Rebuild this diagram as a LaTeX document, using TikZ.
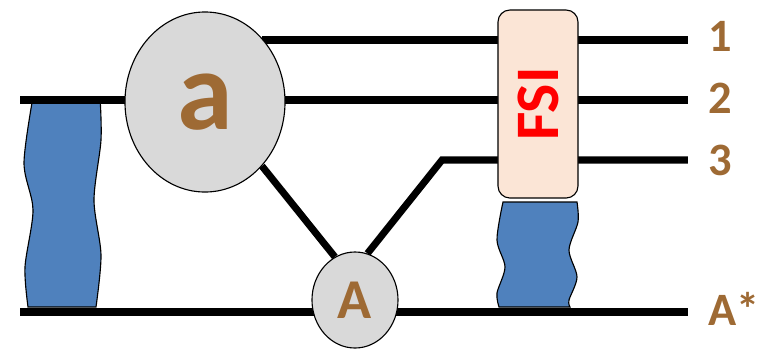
\documentclass[tikz,border=0pt]{standalone}
\usepackage{fontspec}
\setmainfont{Carlito}
\usetikzlibrary{shapes.geometric,positioning,calc,backgrounds}
\definecolor{blobgray}{RGB}{217,217,217}
\definecolor{labelbrown}{RGB}{158,106,52}
\definecolor{wavebl}{RGB}{79,129,189}
\definecolor{fsipeach}{RGB}{251,229,214}

\begin{document}
\begin{tikzpicture}[
    x=0.025cm, y=-0.025cm,
    blob/.style={ellipse, draw, line width=0.8pt, fill=blobgray, inner sep=0pt, text=labelbrown},
    wave/.style={draw, line width=0.8pt, fill=wavebl},
    line/.style={line width=5pt},
    lab/.style={anchor=west, inner sep=0pt, text=labelbrown, font=\bfseries\fontsize{33}{34}\selectfont}
]
\useasboundingbox (0,0) rectangle (759,351);

\node[blob, minimum width=4cm, minimum height=4.5cm, font=\bfseries\fontsize{80}{82}\selectfont] (a) at (205,102) {a};
\node[blob, minimum width=2.15cm, minimum height=2.4cm, font=\bfseries\fontsize{40}{42}\selectfont] (A) at (355,300) {A};
\node[draw, line width=0.8pt, fill=fsipeach, rounded corners=0.3cm, minimum width=2cm, minimum height=4.7cm,
      text=red, font=\bfseries\fontsize{44}{46}\selectfont] (fsi) at (538,104) {\rotatebox{90}{FSI}};

\node[lab] (l1) at (708,36) {1};
\node[lab] (l2) at (708,98) {2};
\node[lab] (l3) at (708,160) {3};
\node[lab] (lA) at (708,309) {A*};

\coordinate (in2) at (20,100);
\coordinate (inA) at (20,312);
\coordinate (bend) at (442,160);

\begin{scope}[on background layer]
\draw[wave] (33,97) -- (100,97)
    -- plot[smooth] coordinates {(100,97) (101,140) (94,200) (101,255) (96,307)}
    -- (28,307)
    -- plot[smooth] coordinates {(28,307) (25,267) (33,210) (24,163) (33,97)} -- cycle;
\draw[wave] (503,202) -- (577,202)
    -- plot[smooth] coordinates {(577,202) (578,222) (569,250) (577,277) (569,300) (570,307)}
    -- (499,307)
    -- plot[smooth] coordinates {(499,307) (497,293) (505,267) (497,240) (503,202)} -- cycle;
\draw[line] (in2) -- ([xshift=-0.5cm]l2.west |- in2);
\draw[line] (inA) -- ([xshift=-0.5cm]lA.west |- inA);
\draw[line] (a.north east |- 0,40) -- ([xshift=-0.5cm]l1.west |- 0,40);
\draw[line] (a.south east) -- (A.115);
\draw[line] (A.75) -- (bend) -- ([xshift=-0.5cm]l3.west);
\end{scope}
\end{tikzpicture}
\end{document}
